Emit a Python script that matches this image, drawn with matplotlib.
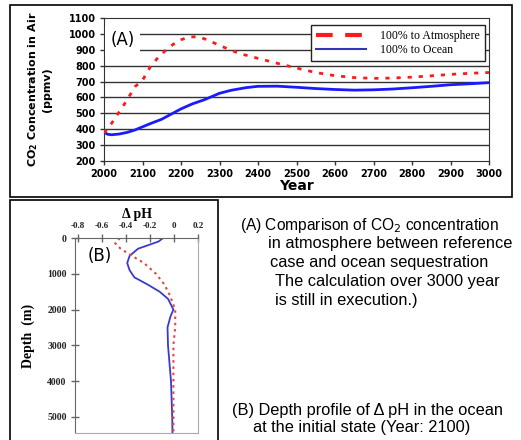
import numpy as np
import matplotlib.pyplot as plt
from matplotlib.lines import Line2D
from matplotlib.patches import Rectangle

W, H = 521, 440

# -- Panel A: CO2 in air --
year_atm = [2000, 2020, 2040, 2060, 2080, 2100, 2120, 2140, 2160, 2180, 2200, 2220,
            2240, 2260, 2280, 2300, 2350, 2400, 2450, 2500, 2550, 2600, 2650, 2700,
            2750, 2800, 2850, 2900, 2950, 3000]
co2_atm = [376, 438, 511, 584, 667, 708, 792, 850, 896, 935, 963, 980,
           982, 970, 950, 927, 878, 846, 815, 785, 757, 737, 725, 720,
           722, 728, 736, 745, 752, 757]
year_ocean = [2000, 2010, 2020, 2040, 2060, 2080, 2100, 2120, 2150, 2180, 2200, 2230,
              2260, 2300, 2330, 2370, 2400, 2450, 2500, 2550, 2600, 2650, 2700,
              2750, 2800, 2850, 2900, 2950, 3000]
co2_ocean = [380, 368, 365, 370, 380, 395, 415, 435, 463, 502, 528, 560,
             585, 626, 645, 662, 670, 671, 664, 656, 650, 646, 648,
             653, 661, 670, 680, 686, 693]

# -- Panel B: delta pH depth profile --
depth_atm = [0, 150, 300, 500, 700, 1000, 1300, 1600, 2000, 2500, 3000, 4000, 5000, 5450]
dph_atm = [-0.45, -0.49, -0.445, -0.35, -0.25, -0.15, -0.08, -0.035, 0.01, 0.01,
           -0.005, -0.005, -0.005, -0.005]
depth_ocean = [0, 100, 300, 500, 700, 900, 1100, 1300, 1500, 1700, 1900, 2000, 2200,
               2500, 3000, 4000, 5000, 5450]
dph_ocean = [-0.09, -0.13, -0.30, -0.37, -0.39, -0.37, -0.33, -0.22, -0.12, -0.05,
             -0.02, -0.005, -0.03, -0.054, -0.05, -0.025, -0.015, -0.013]


def fx(x):
    return x / W


def fy(y):
    return 1 - y / H


fig = plt.figure(figsize=(W / 100, H / 100), dpi=100)

# outer frames
fig.patches.append(Rectangle((fx(10), fy(197)), fx(502), 192 / H, transform=fig.transFigure,
                             fill=False, edgecolor='black', linewidth=1.2))
fig.patches.append(Rectangle((fx(10), fy(445)), fx(208), 245 / H, transform=fig.transFigure,
                             fill=False, edgecolor='black', linewidth=1.2))

###############################################################################
# Panel A
ax = fig.add_axes([fx(104), fy(161), fx(385), 143 / H])
ax.plot(year_ocean, co2_ocean, color='#1a1aff', linewidth=2.0, zorder=3)
ax.plot(year_atm, co2_atm, color='#ff1a1a', linewidth=2.0, linestyle=(0, (1.5, 2.5)), zorder=3)
ax.set_xlim(2000, 3000)
ax.set_ylim(200, 1100)
ax.set_xticks(range(2000, 3001, 100))
ax.set_yticks(range(200, 1101, 100))
for v in range(300, 1001, 100):
    ax.axhline(v, color='#333333', linewidth=1.0, zorder=1)
for s in ax.spines.values():
    s.set_color('#333333')
ax.tick_params(axis='both', direction='out', length=3, width=1, colors='#333333',
               labelcolor='black', labelsize=7, pad=3)
for lab in ax.get_xticklabels() + ax.get_yticklabels():
    lab.set_fontweight('bold')
ax.set_xlabel('Year', fontsize=10, fontweight='bold', labelpad=0)
ax.set_ylabel('CO$_\\mathbf{2}$ Concentration in Air\n(ppmv)', fontsize=8,
              fontweight='bold', labelpad=12)
ax.text(2017, 960, '(A)', fontsize=12, ha='left', va='center', zorder=4,
        bbox=dict(facecolor='white', edgecolor='none', pad=4))

handles = [Line2D([], [], color='#ff1a1a', linewidth=3, dashes=(4, 3)),
           Line2D([], [], color='#3333bb', linewidth=1.5)]
leg = ax.legend(handles, ['100% to Atmosphere', '100% to Ocean'],
                loc='upper right', bbox_to_anchor=(fx(485), fy(25)),
                bbox_transform=fig.transFigure, borderaxespad=0, fancybox=False,
                framealpha=1, edgecolor='#222222', borderpad=0.45, labelspacing=0.15,
                handlelength=4.2, handletextpad=1.2,
                prop={'family': 'Liberation Serif', 'size': 8.5})
leg.get_frame().set_linewidth(1.0)
leg.set_zorder(5)

###############################################################################
# Panel B
bx = fig.add_axes([fx(75), fy(433), fx(123), 195 / H])
bx.plot(dph_ocean, depth_ocean, color='#3a3acc', linewidth=1.3)
bx.plot(dph_atm, depth_atm, color='#e04848', linewidth=1.5, linestyle=(0, (1.2, 1.8)))
bx.set_xlim(-0.825, 0.2)
bx.set_ylim(5450, 0)
bx.set_xticks([-0.8, -0.6, -0.4, -0.2, 0, 0.2])
bx.set_xticklabels(['-0.8', '-0.6', '-0.4', '-0.2', '0', '0.2'])
bx.set_yticks([0, 1000, 2000, 3000, 4000, 5000])
bx.xaxis.tick_top()
bx.xaxis.set_label_position('top')
for s in bx.spines.values():
    s.set_color('#aaaaaa')
bx.spines['top'].set_color('#666666')
bx.spines['left'].set_color('#666666')
bx.tick_params(axis='both', direction='inout', length=6, width=1, colors='#666666',
               labelcolor='#222222', pad=3)
bx.tick_params(axis='x', labelsize=6.5)
bx.tick_params(axis='y', labelsize=7)
for lab in bx.get_xticklabels() + bx.get_yticklabels():
    lab.set_family('Liberation Serif')
    lab.set_fontweight('bold')
bx.set_xlabel('\u0394 pH', fontsize=10, fontweight='bold', family='Liberation Serif', labelpad=3)
bx.set_ylabel('Depth  (m)', fontsize=10, fontweight='bold', family='Liberation Serif', labelpad=9)
bx.text(-0.72, 500, '(B)', fontsize=12, ha='left', va='center')

###############################################################################
# Captions
cap = dict(fontsize=11.8, family='Liberation Sans', va='center', ha='left')
fig.text(fx(240), fy(225), '(A) Comparison of CO$_2$ concentration',
         **dict(cap, fontsize=11.2))
fig.text(fx(268), fy(243), 'in atmosphere between reference', **cap)
fig.text(fx(270), fy(262), 'case and ocean sequestration', **cap)
fig.text(fx(275), fy(281), 'The calculation over 3000 year', **cap)
fig.text(fx(275), fy(300), 'is still in execution.)', **cap)
fig.text(fx(232), fy(410), '(B) Depth profile of \u0394 pH in the ocean', **cap)
fig.text(fx(253), fy(427), 'at the initial state (Year: 2100)', **cap)

fig.savefig('out.png', dpi=100)
